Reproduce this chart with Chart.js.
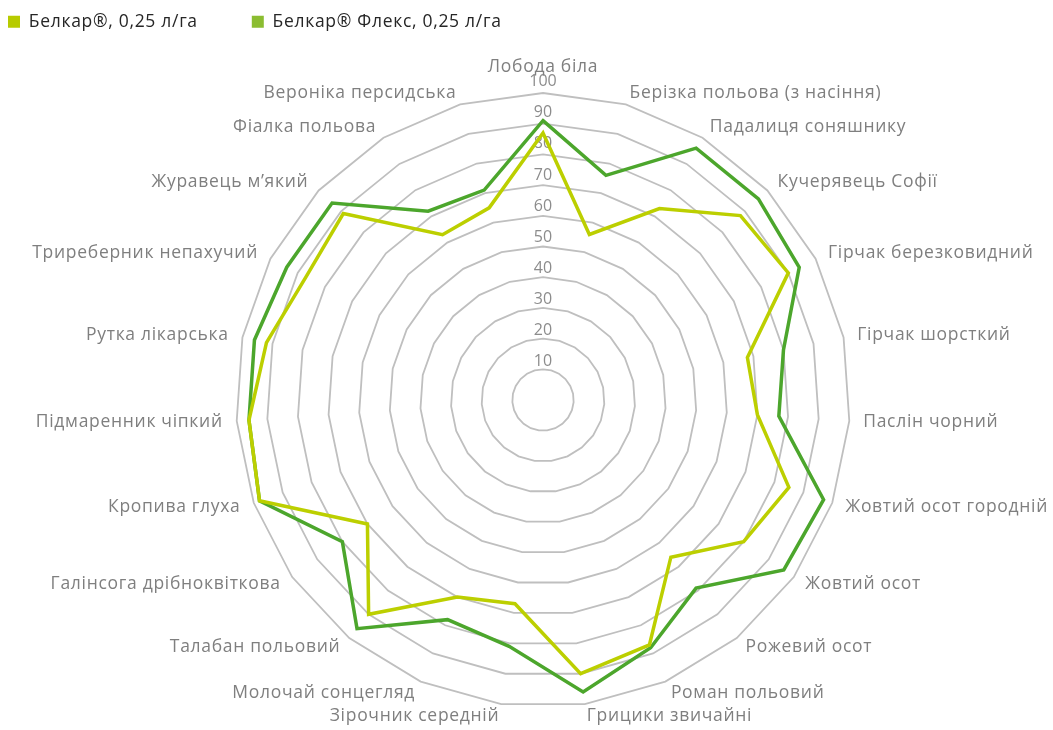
<!DOCTYPE html>
<html>
<head>
<meta charset="utf-8">
<script src="https://cdn.jsdelivr.net/npm/chart.js@4.4.0/dist/chart.umd.min.js"></script>
<style>
html,body{margin:0;padding:0;background:#ffffff;}
canvas{display:block;}
</style>
</head>
<body>
<canvas id="c" width="1053" height="730"></canvas>
<script>
const categories = [
  'Лобода біла',
  'Берізка польова (з насіння)',
  'Падалиця соняшнику',
  'Кучерявець Софії',
  'Гірчак березковидний',
  'Гірчак шорсткий',
  'Паслін чорний',
  'Жовтий осот городній',
  'Жовтий осот',
  'Рожевий осот',
  'Роман польовий',
  'Грицики звичайні',
  'Зірочник середній',
  'Молочай сонцегляд',
  'Талабан польовий',
  'Галінсога дрібноквіткова',
  'Кропива глуха',
  'Підмаренник чіпкий',
  'Рутка лікарська',
  'Триреберник непахучий',
  'Журавець м’який',
  'Фіалка польова',
  'Вероніка персидська'
];
const belkar     = [87, 56, 73, 88, 90, 68, 70, 85, 80, 66, 87, 90, 67, 70, 90, 70, 98, 96, 92, 87, 89, 63, 65];
const belkarFlex = [91, 76, 96, 96, 94, 80, 77, 97, 96, 79, 88, 96, 81, 78, 96, 80, 98, 96, 96, 94, 94, 72, 71];
const seriesNames = ['Белкар®, 0,25 л/га', 'Белкар® Флекс, 0,25 л/га'];
const tickValues = [10, 20, 30, 40, 50, 60, 70, 80, 90, 100];

const FONT = "'Open Sans', 'Noto Sans', sans-serif";
const SPACING = '0.7px';

const excelLabels = {
  id: 'excelLabels',
  beforeLayout(chart) { chart.ctx.letterSpacing = SPACING; },
  beforeDraw(chart) { chart.ctx.letterSpacing = SPACING; },
  beforeDatasetsDraw(chart) {
    const s = chart.scales.r;
    const ctx = chart.ctx;
    ctx.save();
    ctx.letterSpacing = '0px';
    ctx.font = '16px ' + FONT;
    ctx.fillStyle = '#8c8c8c';
    ctx.textAlign = 'center';
    ctx.textBaseline = 'middle';
    tickValues.forEach(v => {
      const d = s.getDistanceFromCenterForValue(v);
      ctx.fillText(String(v), s.xCenter, s.yCenter - d - 7 - v * 0.045);
    });
    ctx.restore();
  },
  afterDraw(chart) {
    const s = chart.scales.r;
    const ctx = chart.ctx;
    ctx.save();
    ctx.letterSpacing = SPACING;
    ctx.font = '17.5px ' + FONT;
    ctx.fillStyle = '#7f7f7f';
    ctx.textBaseline = 'middle';
    categories.forEach((lab, i) => {
      const p = s.getPointPosition(i, s.drawingArea);
      const c = Math.cos(p.angle), sn = Math.sin(p.angle);
      let x = p.x + 14 * c;
      let y = p.y + 12 * sn;
      if (Math.abs(c) < 0.01) {
        ctx.textAlign = 'center';
        y = p.y - 26;
      } else {
        ctx.textAlign = c > 0 ? 'left' : 'right';
      }
      ctx.fillText(lab, x, y);
    });
    ctx.restore();
  }
};

new Chart(document.getElementById('c'), {
  type: 'radar',
  data: {
    labels: categories,
    datasets: [
      {
        label: seriesNames[0],
        data: belkar,
        borderColor: '#bccf00',
        backgroundColor: '#b7cb00',
        borderWidth: 3.5,
        pointRadius: 0,
        pointHoverRadius: 0,
        fill: false,
        tension: 0
      },
      {
        label: seriesNames[1],
        data: belkarFlex,
        borderColor: '#4ca62c',
        backgroundColor: '#8bbd31',
        borderWidth: 3.5,
        pointRadius: 0,
        pointHoverRadius: 0,
        fill: false,
        tension: 0
      }
    ]
  },
  options: {
    responsive: false,
    animation: false,
    devicePixelRatio: 1,
    layout: { autoPadding: false, padding: { left: -46, right: 0, top: -41, bottom: 23 } },
    plugins: {
      legend: {
        display: true,
        position: 'top',
        align: 'start',
        weight: 3000,
        labels: {
          boxWidth: 12,
          boxHeight: 12,
          padding: 54,
          color: '#262626',
          font: { family: FONT, size: 17.5 },
          generateLabels: (chart) => Chart.defaults.plugins.legend.labels.generateLabels(chart).map(l => Object.assign(l, { lineWidth: 0, strokeStyle: 'rgba(0,0,0,0)' }))
        }
      },
      title: {
        display: true,
        text: '',
        padding: { top: 42.5, bottom: 0 },
        font: { size: 10, lineHeight: 1 }
      },
      subtitle: {
        display: true,
        position: 'left',
        text: '',
        padding: { top: 70, bottom: 0 },
        font: { size: 10, lineHeight: 1 }
      },
      tooltip: { enabled: false }
    },
    scales: {
      r: {
        min: 0,
        max: 100,
        ticks: { display: false, stepSize: 10 },
        pointLabels: { display: false },
        angleLines: { display: false },
        grid: { color: '#bfbfbf', lineWidth: 1.8 }
      }
    }
  },
  plugins: [excelLabels]
});
</script>
</body>
</html>
